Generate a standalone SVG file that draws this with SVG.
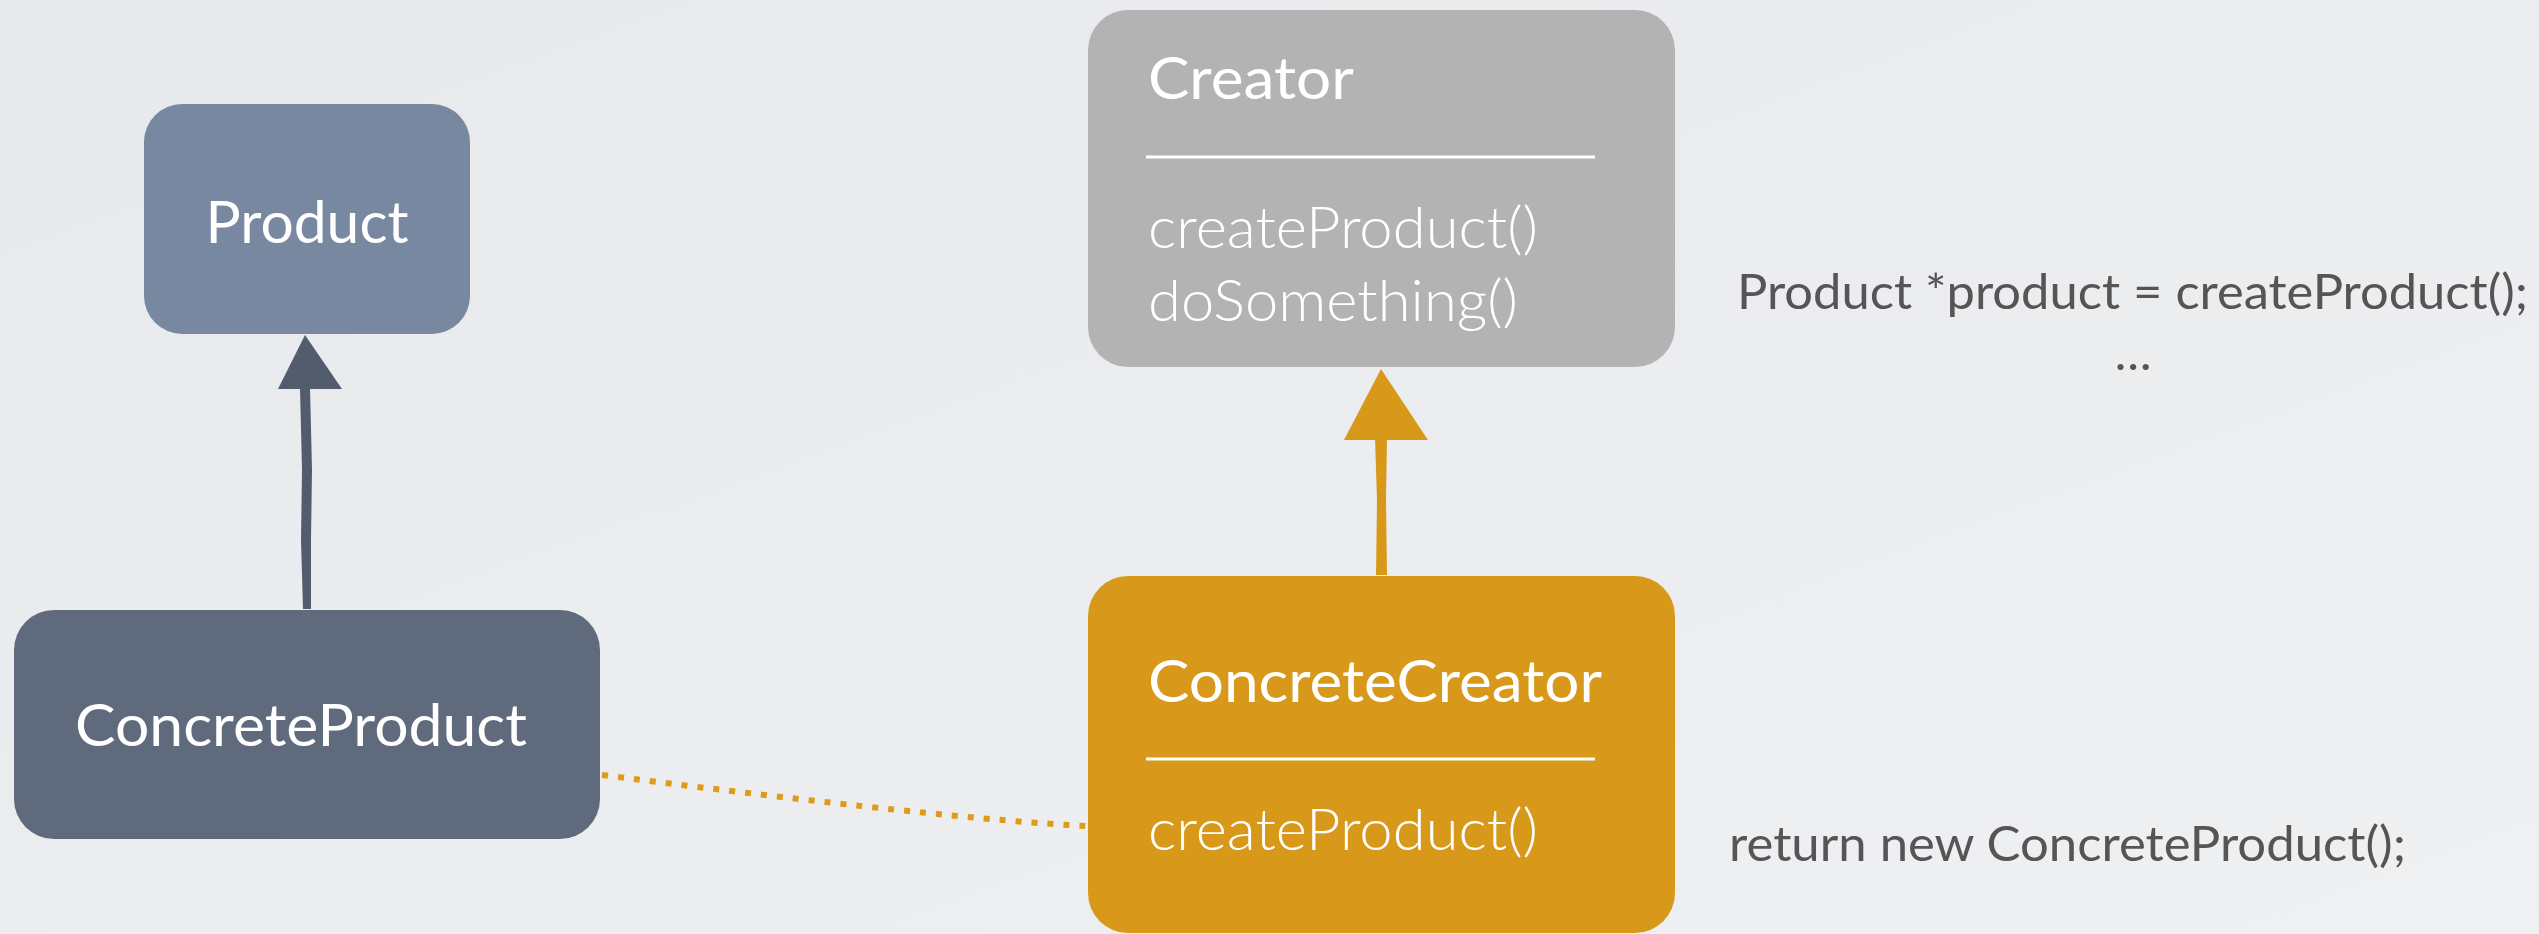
<svg xmlns="http://www.w3.org/2000/svg" width="2539" height="934" viewBox="0 0 2539 934">
  <defs>
    <linearGradient id="bg" x1="0" y1="0" x2="1" y2="1">
      <stop offset="0" stop-color="#e7e9ec"/>
      <stop offset="1" stop-color="#eff0f2"/>
    </linearGradient>
    <style>
      .name { font-family: Lato, "Open Sans", sans-serif; font-size: 58px; fill: #ffffff; }
      .method { font-family: Lato, "Open Sans", sans-serif; font-size: 58px; font-weight: 300; fill: #ffffff; }
      .code { font-family: Lato, "Open Sans", sans-serif; font-size: 49px; fill: #555555; }
      .divider { stroke: #ffffff; stroke-width: 3; }
    </style>
  </defs>
  <rect x="0" y="0" width="2539" height="934" fill="url(#bg)"/>

  <g id="connectors">
    <path d="M602,775 Q948,819 1086,826" fill="none" stroke="#e09a1b" stroke-width="6" stroke-dasharray="6 10"/>
    <g id="gen-product">
      <path d="M300,388 L302,470 L301,540 L303,609 L311,609 L311,540 L312,470 L310,388 Z" fill="#525c6d"/>
      <polygon points="305,335 278,389 342,389" fill="#525c6d"/>
    </g>
    <g id="gen-creator">
      <path d="M1375,438 L1377,500 L1376,575 L1387,575 L1386,500 L1387,438 Z" fill="#d8991b"/>
      <polygon points="1381,369 1344,440 1428,440" fill="#d8991b"/>
    </g>
  </g>

  <g id="product">
    <rect x="144" y="104" width="326" height="230" rx="38" fill="#7788a0"/>
    <text class="name" x="307" y="243" text-anchor="middle" textLength="203" lengthAdjust="spacingAndGlyphs">Product</text>
  </g>

  <g id="concrete-product">
    <rect x="14" y="610" width="586" height="229" rx="40" fill="#5f6a7d"/>
    <text class="name" x="301" y="746" text-anchor="middle" textLength="452" lengthAdjust="spacingAndGlyphs">ConcreteProduct</text>
  </g>

  <g id="creator">
    <rect x="1088" y="10" width="587" height="357" rx="40" fill="#b3b3b3"/>
    <text class="name" x="1148" y="99" textLength="206" lengthAdjust="spacingAndGlyphs">Creator</text>
    <line class="divider" x1="1146" y1="157" x2="1595" y2="157"/>
    <text class="method" x="1148" y="248" textLength="390" lengthAdjust="spacingAndGlyphs">createProduct()</text>
    <text class="method" x="1148" y="321" textLength="370" lengthAdjust="spacingAndGlyphs">doSomething()</text>
  </g>

  <g id="concrete-creator">
    <rect x="1088" y="576" width="587" height="357" rx="40" fill="#d8991b"/>
    <text class="name" x="1148" y="702" textLength="454" lengthAdjust="spacingAndGlyphs">ConcreteCreator</text>
    <line class="divider" x1="1146" y1="759" x2="1595" y2="759"/>
    <text class="method" x="1148" y="850" textLength="390" lengthAdjust="spacingAndGlyphs">createProduct()</text>
  </g>

  <g id="code-notes">
    <text class="code" x="1737" y="309" textLength="791" lengthAdjust="spacingAndGlyphs">Product *product = createProduct();</text>
    <text class="code" x="2133" y="370" text-anchor="middle">…</text>
    <text class="code" x="1729" y="861" textLength="677" lengthAdjust="spacingAndGlyphs">return new ConcreteProduct();</text>
  </g>
</svg>
